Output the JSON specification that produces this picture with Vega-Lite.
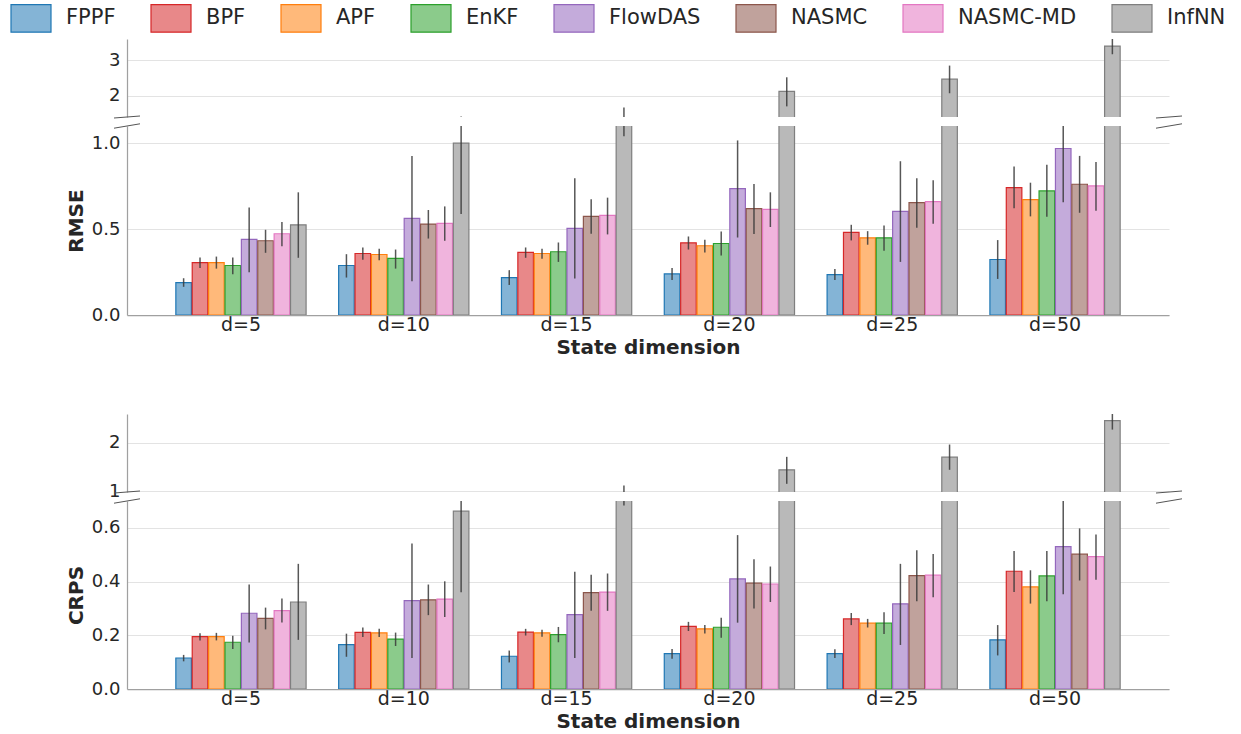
{
  "$schema": "https://vega.github.io/schema/vega-lite/v6.json",
  "background": "white",
  "padding": {"left": 10, "top": -3, "right": 0, "bottom": 0},
  "config": {
    "font": "DejaVu Sans",
    "view": {"stroke": null},
    "axis": {
      "labelFont": "DejaVu Sans", "titleFont": "DejaVu Sans",
      "labelColor": "#262626", "titleColor": "#262626",
      "ticks": false, "domainColor": "#a0a0a0", "domainWidth": 1.25,
      "gridColor": "#e3e3e3", "gridWidth": 1.2
    },
    "legend": {
      "labelFont": "DejaVu Sans", "labelFontSize": 21, "labelColor": "#262626",
      "symbolType": "M-1,-0.69H1V0.69H-1Z", "symbolSize": 1600, "symbolStrokeWidth": 1.2,
      "labelOffset": 14, "columnPadding": 32, "padding": 0, "rowPadding": 0
    }
  },
  "data": {"values": [
    {"metric":"RMSE","dim":"d=5","method":"FPPF","mean":0.189,"lo":0.164,"hi":0.214},
    {"metric":"RMSE","dim":"d=5","method":"BPF","mean":0.305,"lo":0.274,"hi":0.335},
    {"metric":"RMSE","dim":"d=5","method":"APF","mean":0.305,"lo":0.270,"hi":0.340},
    {"metric":"RMSE","dim":"d=5","method":"EnKF","mean":0.288,"lo":0.237,"hi":0.335},
    {"metric":"RMSE","dim":"d=5","method":"FlowDAS","mean":0.440,"lo":0.249,"hi":0.626},
    {"metric":"RMSE","dim":"d=5","method":"NASMC","mean":0.432,"lo":0.362,"hi":0.496},
    {"metric":"RMSE","dim":"d=5","method":"NASMC-MD","mean":0.473,"lo":0.400,"hi":0.541},
    {"metric":"RMSE","dim":"d=5","method":"InfNN","mean":0.525,"lo":0.333,"hi":0.714},
    {"metric":"RMSE","dim":"d=10","method":"FPPF","mean":0.288,"lo":0.218,"hi":0.354},
    {"metric":"RMSE","dim":"d=10","method":"BPF","mean":0.358,"lo":0.321,"hi":0.393},
    {"metric":"RMSE","dim":"d=10","method":"APF","mean":0.352,"lo":0.319,"hi":0.385},
    {"metric":"RMSE","dim":"d=10","method":"EnKF","mean":0.329,"lo":0.270,"hi":0.381},
    {"metric":"RMSE","dim":"d=10","method":"FlowDAS","mean":0.562,"lo":0.196,"hi":0.926},
    {"metric":"RMSE","dim":"d=10","method":"NASMC","mean":0.529,"lo":0.445,"hi":0.611},
    {"metric":"RMSE","dim":"d=10","method":"NASMC-MD","mean":0.533,"lo":0.432,"hi":0.632},
    {"metric":"RMSE","dim":"d=10","method":"InfNN","mean":1.000,"lo":0.588,"hi":1.415},
    {"metric":"RMSE","dim":"d=15","method":"FPPF","mean":0.218,"lo":0.175,"hi":0.261},
    {"metric":"RMSE","dim":"d=15","method":"BPF","mean":0.364,"lo":0.333,"hi":0.393},
    {"metric":"RMSE","dim":"d=15","method":"APF","mean":0.358,"lo":0.327,"hi":0.385},
    {"metric":"RMSE","dim":"d=15","method":"EnKF","mean":0.368,"lo":0.309,"hi":0.422},
    {"metric":"RMSE","dim":"d=15","method":"FlowDAS","mean":0.504,"lo":0.212,"hi":0.796},
    {"metric":"RMSE","dim":"d=15","method":"NASMC","mean":0.574,"lo":0.473,"hi":0.673},
    {"metric":"RMSE","dim":"d=15","method":"NASMC-MD","mean":0.580,"lo":0.469,"hi":0.683},
    {"metric":"RMSE","dim":"d=15","method":"InfNN","mean":1.355,"lo":1.040,"hi":1.670},
    {"metric":"RMSE","dim":"d=20","method":"FPPF","mean":0.239,"lo":0.204,"hi":0.274},
    {"metric":"RMSE","dim":"d=20","method":"BPF","mean":0.420,"lo":0.381,"hi":0.457},
    {"metric":"RMSE","dim":"d=20","method":"APF","mean":0.403,"lo":0.364,"hi":0.438},
    {"metric":"RMSE","dim":"d=20","method":"EnKF","mean":0.416,"lo":0.346,"hi":0.486},
    {"metric":"RMSE","dim":"d=20","method":"FlowDAS","mean":0.735,"lo":0.451,"hi":1.016},
    {"metric":"RMSE","dim":"d=20","method":"NASMC","mean":0.619,"lo":0.471,"hi":0.763},
    {"metric":"RMSE","dim":"d=20","method":"NASMC-MD","mean":0.615,"lo":0.512,"hi":0.714},
    {"metric":"RMSE","dim":"d=20","method":"InfNN","mean":2.120,"lo":1.700,"hi":2.520},
    {"metric":"RMSE","dim":"d=25","method":"FPPF","mean":0.235,"lo":0.204,"hi":0.267},
    {"metric":"RMSE","dim":"d=25","method":"BPF","mean":0.481,"lo":0.434,"hi":0.525},
    {"metric":"RMSE","dim":"d=25","method":"APF","mean":0.449,"lo":0.409,"hi":0.488},
    {"metric":"RMSE","dim":"d=25","method":"EnKF","mean":0.449,"lo":0.374,"hi":0.521},
    {"metric":"RMSE","dim":"d=25","method":"FlowDAS","mean":0.603,"lo":0.309,"hi":0.895},
    {"metric":"RMSE","dim":"d=25","method":"NASMC","mean":0.654,"lo":0.508,"hi":0.796},
    {"metric":"RMSE","dim":"d=25","method":"NASMC-MD","mean":0.660,"lo":0.531,"hi":0.784},
    {"metric":"RMSE","dim":"d=25","method":"InfNN","mean":2.467,"lo":2.070,"hi":2.850},
    {"metric":"RMSE","dim":"d=50","method":"FPPF","mean":0.323,"lo":0.210,"hi":0.436},
    {"metric":"RMSE","dim":"d=50","method":"BPF","mean":0.741,"lo":0.621,"hi":0.864},
    {"metric":"RMSE","dim":"d=50","method":"APF","mean":0.671,"lo":0.574,"hi":0.770},
    {"metric":"RMSE","dim":"d=50","method":"EnKF","mean":0.722,"lo":0.572,"hi":0.874},
    {"metric":"RMSE","dim":"d=50","method":"FlowDAS","mean":0.969,"lo":0.656,"hi":1.280},
    {"metric":"RMSE","dim":"d=50","method":"NASMC","mean":0.761,"lo":0.595,"hi":0.926},
    {"metric":"RMSE","dim":"d=50","method":"NASMC-MD","mean":0.751,"lo":0.607,"hi":0.891},
    {"metric":"RMSE","dim":"d=50","method":"InfNN","mean":3.400,"lo":3.170,"hi":3.630},
    {"metric":"CRPS","dim":"d=5","method":"FPPF","mean":0.1155,"lo":0.103,"hi":0.127},
    {"metric":"CRPS","dim":"d=5","method":"BPF","mean":0.195,"lo":0.181,"hi":0.208},
    {"metric":"CRPS","dim":"d=5","method":"APF","mean":0.195,"lo":0.181,"hi":0.209},
    {"metric":"CRPS","dim":"d=5","method":"EnKF","mean":0.174,"lo":0.149,"hi":0.198},
    {"metric":"CRPS","dim":"d=5","method":"FlowDAS","mean":0.282,"lo":0.173,"hi":0.389},
    {"metric":"CRPS","dim":"d=5","method":"NASMC","mean":0.263,"lo":0.222,"hi":0.303},
    {"metric":"CRPS","dim":"d=5","method":"NASMC-MD","mean":0.292,"lo":0.248,"hi":0.337},
    {"metric":"CRPS","dim":"d=5","method":"InfNN","mean":0.324,"lo":0.183,"hi":0.466},
    {"metric":"CRPS","dim":"d=10","method":"FPPF","mean":0.165,"lo":0.120,"hi":0.206},
    {"metric":"CRPS","dim":"d=10","method":"BPF","mean":0.211,"lo":0.194,"hi":0.229},
    {"metric":"CRPS","dim":"d=10","method":"APF","mean":0.209,"lo":0.194,"hi":0.224},
    {"metric":"CRPS","dim":"d=10","method":"EnKF","mean":0.186,"lo":0.160,"hi":0.210},
    {"metric":"CRPS","dim":"d=10","method":"FlowDAS","mean":0.329,"lo":0.1155,"hi":0.542},
    {"metric":"CRPS","dim":"d=10","method":"NASMC","mean":0.332,"lo":0.275,"hi":0.389},
    {"metric":"CRPS","dim":"d=10","method":"NASMC-MD","mean":0.335,"lo":0.268,"hi":0.401},
    {"metric":"CRPS","dim":"d=10","method":"InfNN","mean":0.662,"lo":0.360,"hi":0.964},
    {"metric":"CRPS","dim":"d=15","method":"FPPF","mean":0.122,"lo":0.099,"hi":0.143},
    {"metric":"CRPS","dim":"d=15","method":"BPF","mean":0.212,"lo":0.199,"hi":0.224},
    {"metric":"CRPS","dim":"d=15","method":"APF","mean":0.209,"lo":0.195,"hi":0.221},
    {"metric":"CRPS","dim":"d=15","method":"EnKF","mean":0.2025,"lo":0.174,"hi":0.231},
    {"metric":"CRPS","dim":"d=15","method":"FlowDAS","mean":0.277,"lo":0.1155,"hi":0.437},
    {"metric":"CRPS","dim":"d=15","method":"NASMC","mean":0.359,"lo":0.291,"hi":0.425},
    {"metric":"CRPS","dim":"d=15","method":"NASMC-MD","mean":0.361,"lo":0.291,"hi":0.430},
    {"metric":"CRPS","dim":"d=15","method":"InfNN","mean":0.900,"lo":0.683,"hi":1.117},
    {"metric":"CRPS","dim":"d=20","method":"FPPF","mean":0.132,"lo":0.113,"hi":0.149},
    {"metric":"CRPS","dim":"d=20","method":"BPF","mean":0.2335,"lo":0.216,"hi":0.250},
    {"metric":"CRPS","dim":"d=20","method":"APF","mean":0.224,"lo":0.207,"hi":0.2385},
    {"metric":"CRPS","dim":"d=20","method":"EnKF","mean":0.230,"lo":0.191,"hi":0.265},
    {"metric":"CRPS","dim":"d=20","method":"FlowDAS","mean":0.410,"lo":0.247,"hi":0.573},
    {"metric":"CRPS","dim":"d=20","method":"NASMC","mean":0.394,"lo":0.300,"hi":0.483},
    {"metric":"CRPS","dim":"d=20","method":"NASMC-MD","mean":0.391,"lo":0.324,"hi":0.456},
    {"metric":"CRPS","dim":"d=20","method":"InfNN","mean":1.441,"lo":1.150,"hi":1.710},
    {"metric":"CRPS","dim":"d=25","method":"FPPF","mean":0.132,"lo":0.1155,"hi":0.148},
    {"metric":"CRPS","dim":"d=25","method":"BPF","mean":0.261,"lo":0.238,"hi":0.283},
    {"metric":"CRPS","dim":"d=25","method":"APF","mean":0.245,"lo":0.229,"hi":0.261},
    {"metric":"CRPS","dim":"d=25","method":"EnKF","mean":0.245,"lo":0.205,"hi":0.286},
    {"metric":"CRPS","dim":"d=25","method":"FlowDAS","mean":0.317,"lo":0.164,"hi":0.466},
    {"metric":"CRPS","dim":"d=25","method":"NASMC","mean":0.422,"lo":0.327,"hi":0.517},
    {"metric":"CRPS","dim":"d=25","method":"NASMC-MD","mean":0.424,"lo":0.342,"hi":0.503},
    {"metric":"CRPS","dim":"d=25","method":"InfNN","mean":1.703,"lo":1.441,"hi":1.966},
    {"metric":"CRPS","dim":"d=50","method":"FPPF","mean":0.183,"lo":0.125,"hi":0.238},
    {"metric":"CRPS","dim":"d=50","method":"BPF","mean":0.4385,"lo":0.361,"hi":0.514},
    {"metric":"CRPS","dim":"d=50","method":"APF","mean":0.380,"lo":0.318,"hi":0.442},
    {"metric":"CRPS","dim":"d=50","method":"EnKF","mean":0.421,"lo":0.327,"hi":0.514},
    {"metric":"CRPS","dim":"d=50","method":"FlowDAS","mean":0.530,"lo":0.353,"hi":0.707},
    {"metric":"CRPS","dim":"d=50","method":"NASMC","mean":0.502,"lo":0.404,"hi":0.598},
    {"metric":"CRPS","dim":"d=50","method":"NASMC-MD","mean":0.493,"lo":0.407,"hi":0.575},
    {"metric":"CRPS","dim":"d=50","method":"InfNN","mean":2.462,"lo":2.276,"hi":2.607}
  ]},
  "spacing": 57,
  "vconcat": [
    {
      "bounds": "flush",
      "spacing": 9,
      "vconcat": [
        {
          "width": 1042, "height": 78,
          "transform": [{"filter": "datum.metric === 'RMSE'"}],
          "layer": [
            {
              "mark": {"type": "bar", "clip": true, "strokeWidth": 1.2},
              "encoding": {
                "x": {"field": "dim", "type": "nominal", "sort": ["d=5","d=10","d=15","d=20","d=25","d=50"], "scale": {"paddingInner": 0.2, "paddingOuter": 0.3}, "axis": null},
                "xOffset": {"field": "method", "type": "nominal", "sort": ["FPPF","BPF","APF","EnKF","FlowDAS","NASMC","NASMC-MD","InfNN"], "scale": {"paddingInner": 0.05, "paddingOuter": 0}},
                "y": {"field": "mean", "type": "quantitative", "scale": {"domain": [1.4, 3.6], "nice": false, "zero": false}, "axis": {"values": [2, 3], "format": "d", "title": null, "labelFontSize": 18, "labelPadding": 7, "grid": true}},
                "y2": {"datum": 0},
                "fill": {"field": "method", "type": "nominal", "sort": ["FPPF","BPF","APF","EnKF","FlowDAS","NASMC","NASMC-MD","InfNN"], "scale": {"domain": ["FPPF","BPF","APF","EnKF","FlowDAS","NASMC","NASMC-MD","InfNN"], "range": ["#84b4d6","#e88889","#ffb97a","#8bcb8b","#c4abdb","#c0a29c","#f0b4dd","#b9b9b9"]}, "legend": {"title": null, "orient": "none", "legendX": -117, "legendY": -42, "direction": "horizontal", "columns": 8}},
                "stroke": {"field": "method", "type": "nominal", "sort": ["FPPF","BPF","APF","EnKF","FlowDAS","NASMC","NASMC-MD","InfNN"], "scale": {"domain": ["FPPF","BPF","APF","EnKF","FlowDAS","NASMC","NASMC-MD","InfNN"], "range": ["#1f77b4","#d62728","#ff7f0e","#2ca02c","#9467bd","#8c564b","#e377c2","#7f7f7f"]}, "legend": {"title": null, "orient": "none", "legendX": -117, "legendY": -42, "direction": "horizontal", "columns": 8}}
              }
            },
            {
              "mark": {"type": "rule", "clip": true, "strokeWidth": 1.5, "color": "#3a3a3a", "opacity": 0.85},
              "encoding": {
                "x": {"field": "dim", "type": "nominal", "sort": ["d=5","d=10","d=15","d=20","d=25","d=50"], "axis": null},
                "xOffset": {"field": "method", "type": "nominal", "sort": ["FPPF","BPF","APF","EnKF","FlowDAS","NASMC","NASMC-MD","InfNN"]},
                "y": {"field": "lo", "type": "quantitative", "axis": {"values": [2, 3], "format": "d", "title": null, "labelFontSize": 18, "labelPadding": 7, "grid": true}},
                "y2": {"field": "hi"}
              }
            },
            {
              "data": {"values": [{"side": "left"}]},
              "mark": {"type": "rule", "color": "#555555", "strokeWidth": 1},
              "encoding": {"x": {"value": -13}, "x2": {"value": 13}, "y": {"value": 79}, "y2": {"value": 77}}
            },
            {
              "data": {"values": [{"side": "right"}]},
              "mark": {"type": "rule", "color": "#555555", "strokeWidth": 1},
              "encoding": {"x": {"value": 1029}, "x2": {"value": 1055}, "y": {"value": 79}, "y2": {"value": 77}}
            }
          ]
        },
        {
          "width": 1042, "height": 189,
          "transform": [{"filter": "datum.metric === 'RMSE'"}],
          "layer": [
            {
              "mark": {"type": "bar", "clip": true, "strokeWidth": 1.2},
              "encoding": {
                "x": {"field": "dim", "type": "nominal", "sort": ["d=5","d=10","d=15","d=20","d=25","d=50"], "scale": {"paddingInner": 0.2, "paddingOuter": 0.3}, "axis": {"title": "State dimension", "labelAngle": 0, "labelFontSize": 19, "titleFontSize": 20, "titleFontWeight": "bold", "labelPadding": 0, "titlePadding": 3, "domain": true, "grid": false}},
                "xOffset": {"field": "method", "type": "nominal", "sort": ["FPPF","BPF","APF","EnKF","FlowDAS","NASMC","NASMC-MD","InfNN"], "scale": {"paddingInner": 0.05, "paddingOuter": 0}},
                "y": {"field": "mean", "type": "quantitative", "scale": {"domain": [0, 1.1], "nice": false, "zero": false}, "axis": {"values": [0, 0.5, 1.0], "format": ".1f", "title": "RMSE", "titleFontSize": 20, "titleFontWeight": "bold", "titlePadding": 5, "labelFontSize": 18, "labelPadding": 7, "grid": true}},
                "y2": {"datum": 0},
                "fill": {"field": "method", "type": "nominal", "sort": ["FPPF","BPF","APF","EnKF","FlowDAS","NASMC","NASMC-MD","InfNN"], "legend": {"title": null, "orient": "none", "legendX": -117, "legendY": -42, "direction": "horizontal", "columns": 8}},
                "stroke": {"field": "method", "type": "nominal", "sort": ["FPPF","BPF","APF","EnKF","FlowDAS","NASMC","NASMC-MD","InfNN"], "legend": {"title": null, "orient": "none", "legendX": -117, "legendY": -42, "direction": "horizontal", "columns": 8}}
              }
            },
            {
              "mark": {"type": "rule", "clip": true, "strokeWidth": 1.5, "color": "#3a3a3a", "opacity": 0.85},
              "encoding": {
                "x": {"field": "dim", "type": "nominal", "sort": ["d=5","d=10","d=15","d=20","d=25","d=50"], "axis": {"title": "State dimension", "labelAngle": 0, "labelFontSize": 19, "titleFontSize": 20, "titleFontWeight": "bold", "labelPadding": 0, "titlePadding": 3, "domain": true, "grid": false}},
                "xOffset": {"field": "method", "type": "nominal", "sort": ["FPPF","BPF","APF","EnKF","FlowDAS","NASMC","NASMC-MD","InfNN"]},
                "y": {"field": "lo", "type": "quantitative", "axis": {"values": [0, 0.5, 1.0], "format": ".1f", "title": "RMSE", "titleFontSize": 20, "titleFontWeight": "bold", "titlePadding": 5, "labelFontSize": 18, "labelPadding": 7, "grid": true}},
                "y2": {"field": "hi"}
              }
            },
            {
              "data": {"values": [{"side": "left"}]},
              "mark": {"type": "rule", "color": "#555555", "strokeWidth": 1},
              "encoding": {"x": {"value": -13}, "x2": {"value": 13}, "y": {"value": 2.2}, "y2": {"value": -2.2}}
            },
            {
              "data": {"values": [{"side": "right"}]},
              "mark": {"type": "rule", "color": "#555555", "strokeWidth": 1},
              "encoding": {"x": {"value": 1029}, "x2": {"value": 1055}, "y": {"value": 2.2}, "y2": {"value": -2.2}}
            }
          ]
        }
      ]
    },
    {
      "bounds": "flush",
      "spacing": 9,
      "vconcat": [
        {
          "width": 1042, "height": 78,
          "transform": [{"filter": "datum.metric === 'CRPS'"}],
          "layer": [
            {
              "mark": {"type": "bar", "clip": true, "strokeWidth": 1.2},
              "encoding": {
                "x": {"field": "dim", "type": "nominal", "sort": ["d=5","d=10","d=15","d=20","d=25","d=50"], "scale": {"paddingInner": 0.2, "paddingOuter": 0.3}, "axis": null},
                "xOffset": {"field": "method", "type": "nominal", "sort": ["FPPF","BPF","APF","EnKF","FlowDAS","NASMC","NASMC-MD","InfNN"], "scale": {"paddingInner": 0.05, "paddingOuter": 0}},
                "y": {"field": "mean", "type": "quantitative", "scale": {"domain": [0.98, 2.6], "nice": false, "zero": false}, "axis": {"values": [1, 2], "format": "d", "title": null, "labelFontSize": 18, "labelPadding": 7, "grid": true}},
                "y2": {"datum": 0},
                "fill": {"field": "method", "type": "nominal", "sort": ["FPPF","BPF","APF","EnKF","FlowDAS","NASMC","NASMC-MD","InfNN"], "legend": {"title": null, "orient": "none", "legendX": -117, "legendY": -42, "direction": "horizontal", "columns": 8}},
                "stroke": {"field": "method", "type": "nominal", "sort": ["FPPF","BPF","APF","EnKF","FlowDAS","NASMC","NASMC-MD","InfNN"], "legend": {"title": null, "orient": "none", "legendX": -117, "legendY": -42, "direction": "horizontal", "columns": 8}}
              }
            },
            {
              "mark": {"type": "rule", "clip": true, "strokeWidth": 1.5, "color": "#3a3a3a", "opacity": 0.85},
              "encoding": {
                "x": {"field": "dim", "type": "nominal", "sort": ["d=5","d=10","d=15","d=20","d=25","d=50"], "axis": null},
                "xOffset": {"field": "method", "type": "nominal", "sort": ["FPPF","BPF","APF","EnKF","FlowDAS","NASMC","NASMC-MD","InfNN"]},
                "y": {"field": "lo", "type": "quantitative", "axis": {"values": [1, 2], "format": "d", "title": null, "labelFontSize": 18, "labelPadding": 7, "grid": true}},
                "y2": {"field": "hi"}
              }
            },
            {
              "data": {"values": [{"side": "left"}]},
              "mark": {"type": "rule", "color": "#555555", "strokeWidth": 1},
              "encoding": {"x": {"value": -13}, "x2": {"value": 13}, "y": {"value": 79}, "y2": {"value": 77}}
            },
            {
              "data": {"values": [{"side": "right"}]},
              "mark": {"type": "rule", "color": "#555555", "strokeWidth": 1},
              "encoding": {"x": {"value": 1029}, "x2": {"value": 1055}, "y": {"value": 79}, "y2": {"value": 77}}
            }
          ]
        },
        {
          "width": 1042, "height": 188,
          "transform": [{"filter": "datum.metric === 'CRPS'"}],
          "layer": [
            {
              "mark": {"type": "bar", "clip": true, "strokeWidth": 1.2},
              "encoding": {
                "x": {"field": "dim", "type": "nominal", "sort": ["d=5","d=10","d=15","d=20","d=25","d=50"], "scale": {"paddingInner": 0.2, "paddingOuter": 0.3}, "axis": {"title": "State dimension", "labelAngle": 0, "labelFontSize": 19, "titleFontSize": 20, "titleFontWeight": "bold", "labelPadding": 0, "titlePadding": 3, "domain": true, "grid": false}},
                "xOffset": {"field": "method", "type": "nominal", "sort": ["FPPF","BPF","APF","EnKF","FlowDAS","NASMC","NASMC-MD","InfNN"], "scale": {"paddingInner": 0.05, "paddingOuter": 0}},
                "y": {"field": "mean", "type": "quantitative", "scale": {"domain": [0, 0.7], "nice": false, "zero": false}, "axis": {"values": [0, 0.2, 0.4, 0.6], "format": ".1f", "title": "CRPS", "titleFontSize": 20, "titleFontWeight": "bold", "titlePadding": 5, "labelFontSize": 18, "labelPadding": 7, "grid": true}},
                "y2": {"datum": 0},
                "fill": {"field": "method", "type": "nominal", "sort": ["FPPF","BPF","APF","EnKF","FlowDAS","NASMC","NASMC-MD","InfNN"], "legend": {"title": null, "orient": "none", "legendX": -117, "legendY": -42, "direction": "horizontal", "columns": 8}},
                "stroke": {"field": "method", "type": "nominal", "sort": ["FPPF","BPF","APF","EnKF","FlowDAS","NASMC","NASMC-MD","InfNN"], "legend": {"title": null, "orient": "none", "legendX": -117, "legendY": -42, "direction": "horizontal", "columns": 8}}
              }
            },
            {
              "mark": {"type": "rule", "clip": true, "strokeWidth": 1.5, "color": "#3a3a3a", "opacity": 0.85},
              "encoding": {
                "x": {"field": "dim", "type": "nominal", "sort": ["d=5","d=10","d=15","d=20","d=25","d=50"], "axis": {"title": "State dimension", "labelAngle": 0, "labelFontSize": 19, "titleFontSize": 20, "titleFontWeight": "bold", "labelPadding": 0, "titlePadding": 3, "domain": true, "grid": false}},
                "xOffset": {"field": "method", "type": "nominal", "sort": ["FPPF","BPF","APF","EnKF","FlowDAS","NASMC","NASMC-MD","InfNN"]},
                "y": {"field": "lo", "type": "quantitative", "axis": {"values": [0, 0.2, 0.4, 0.6], "format": ".1f", "title": "CRPS", "titleFontSize": 20, "titleFontWeight": "bold", "titlePadding": 5, "labelFontSize": 18, "labelPadding": 7, "grid": true}},
                "y2": {"field": "hi"}
              }
            },
            {
              "data": {"values": [{"side": "left"}]},
              "mark": {"type": "rule", "color": "#555555", "strokeWidth": 1},
              "encoding": {"x": {"value": -13}, "x2": {"value": 13}, "y": {"value": 2.2}, "y2": {"value": -2.2}}
            },
            {
              "data": {"values": [{"side": "right"}]},
              "mark": {"type": "rule", "color": "#555555", "strokeWidth": 1},
              "encoding": {"x": {"value": 1029}, "x2": {"value": 1055}, "y": {"value": 2.2}, "y2": {"value": -2.2}}
            }
          ]
        }
      ]
    }
  ]
}
